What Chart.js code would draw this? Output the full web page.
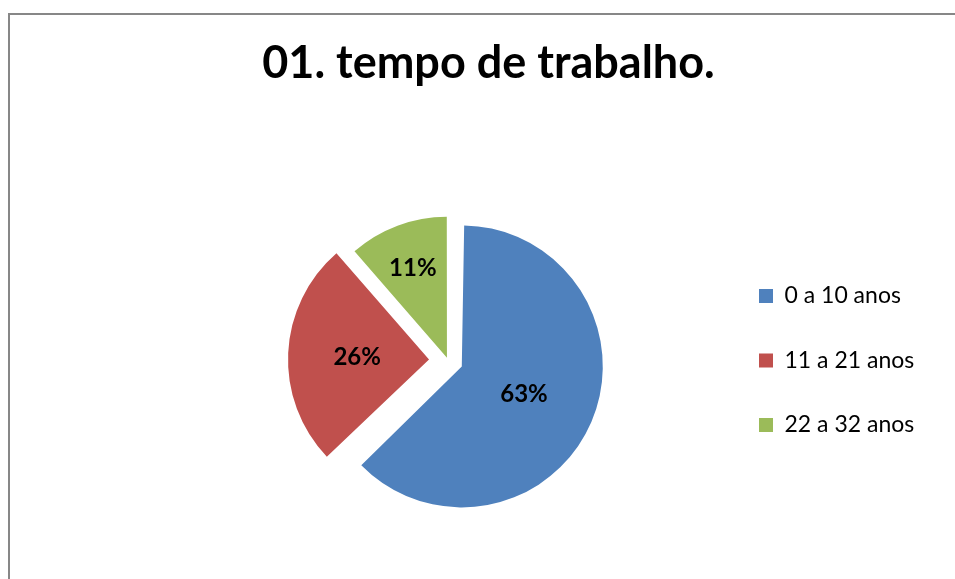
<!DOCTYPE html>
<html>
<head>
<meta charset="utf-8">
<script src="https://cdn.jsdelivr.net/npm/chart.js@4.4.1/dist/chart.umd.min.js"></script>
<style>
  html, body { margin: 0; padding: 0; background: #fff; overflow: hidden; width: 955px; height: 579px; }
  #frame { position: absolute; left: 8px; top: 13px; width: 957px; height: 600px; border: 2px solid #878787; background: #fff; }
  canvas { display: block; }
</style>
</head>
<body>
<div id="frame"><canvas id="c" width="957" height="600"></canvas></div>
<script>
// ---- data ----
const chartTitle = '01. tempo de trabalho.';
const categories = ['0 a 10 anos', '11 a 21 anos', '22 a 32 anos'];
const shares = [62.9, 25.7, 11.4];
const pctLabels = shares.map(v => Math.round(v) + '%');

// ---- style ----
const colors = ['#4F81BD', '#C0504D', '#9BBB59'];
const explode = [60, 76, 12];          // Chart.js arc offset (shift = offset/4)
const labelDepth = [0.48, 0.51, 0.69]; // label distance as fraction of radius
const FONT = 'Lato';
const TITLE_SIZE = 45;
const LEG_SIZE = 23, LEG_BOX = 14, LEG_PAD = 41.5;
const LABEL_SIZE = 24;

// legend width -> layout padding / spacer so the pie, title and legend land where they belong
const mctx = document.createElement('canvas').getContext('2d');
mctx.font = 'normal ' + LEG_SIZE + 'px ' + FONT;
const textW = Math.max(...categories.map(t => mctx.measureText(t).width));
const itemW = LEG_BOX + LEG_SIZE / 2 + textW;
const legendW = LEG_PAD + itemW + 10;
const sidePad = 198 - itemW;
const spacerW = legendW - 81;

const titleY = 65.5 - 0.387 * TITLE_SIZE;
const titlePadTop = titleY - 0.6 * TITLE_SIZE;
const titlePadBottom = 91 - titlePadTop - 1.2 * TITLE_SIZE;

// keep the exploded slices at the same radius
const keepRadius = {
  id: 'keepRadius',
  beforeDatasetDraw(chart, args) {
    const R = args.meta.controller.outerRadius;
    args.meta.data.forEach(arc => {
      const shift = (arc.options.offset || 0) / 4;
      const fix = 1 - Math.sin(Math.min(Math.PI, arc.circumference));
      arc.outerRadius = R - shift * fix;
    });
  }
};

const sliceLabels = {
  id: 'sliceLabels',
  afterDatasetsDraw(chart) {
    const meta = chart.getDatasetMeta(0);
    const R = meta.controller.outerRadius;
    const ctx = chart.ctx;
    ctx.save();
    ctx.font = 'bold ' + LABEL_SIZE + 'px ' + FONT;
    ctx.fillStyle = '#000';
    ctx.textAlign = 'center';
    ctx.textBaseline = 'middle';
    meta.data.forEach((arc, i) => {
      const mid = (arc.startAngle + arc.endAngle) / 2;
      const rr = (arc.options.offset || 0) / 4 + R * labelDepth[i];
      ctx.fillText(pctLabels[i], arc.x + Math.cos(mid) * rr, arc.y + Math.sin(mid) * rr + 1.5);
    });
    ctx.restore();
  }
};

Chart.defaults.font.family = FONT;

new Chart(document.getElementById('c'), {
  type: 'pie',
  data: {
    labels: categories,
    datasets: [{
      data: shares,
      backgroundColor: colors,
      borderWidth: 0,
      offset: explode,
      hoverOffset: 0
    }]
  },
  options: {
    responsive: false,
    animation: false,
    events: [],
    radius: 141,
    layout: { padding: { left: sidePad, right: sidePad, top: 0, bottom: 0 } },
    plugins: {
      title: {
        display: true,
        text: chartTitle,
        color: '#000',
        font: { family: FONT, size: TITLE_SIZE, weight: 'bold', lineHeight: 1.2 },
        padding: { top: titlePadTop, bottom: titlePadBottom }
      },
      subtitle: {
        display: true,
        text: '',
        position: 'left',
        fullSize: false,
        font: { size: 10, lineHeight: 1.2 },
        padding: { top: 0, bottom: spacerW - 12 }
      },
      legend: {
        position: 'right',
        fullSize: false,
        align: 'center',
        labels: {
          color: '#000',
          font: { family: FONT, size: LEG_SIZE },
          boxWidth: LEG_BOX,
          boxHeight: LEG_BOX,
          padding: LEG_PAD
        }
      },
      tooltip: { enabled: false }
    }
  },
  plugins: [keepRadius, sliceLabels]
});
</script>
</body>
</html>
